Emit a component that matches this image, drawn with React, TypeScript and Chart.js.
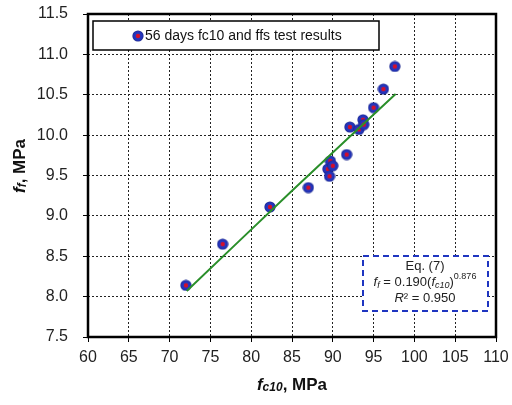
import React, { useEffect, useRef } from "react";
import { Chart, registerables } from "chart.js";

Chart.register(...registerables);

const fc10: number[] = [72.0, 76.5, 82.3, 87.0, 89.4, 89.6, 89.7, 90.0, 91.7, 92.1, 93.2, 93.7, 93.8, 95.0, 96.2, 97.6];
const ff: number[] = [8.14, 8.65, 9.11, 9.35, 9.58, 9.49, 9.68, 9.62, 9.76, 10.1, 10.07, 10.19, 10.13, 10.34, 10.57, 10.85];
const trendX: number[] = [72.1, 85.0, 97.7];
const trendY: number[] = [8.07, 9.31, 10.51];
const xTicks: number[] = [60, 65, 70, 75, 80, 85, 90, 95, 100, 105, 110];
const yTicks: number[] = [7.5, 8.0, 8.5, 9.0, 9.5, 10.0, 10.5, 11.0, 11.5];
const legendLabel = "56 days fc10 and ffs test results";

type Seg = { t: string; it?: boolean; b?: boolean; size?: number; dy?: number };

function segFont(s: Seg, base: number) {
  return `${s.it ? "italic " : ""}${s.b ? "bold " : ""}${s.size ?? base}px "Liberation Sans", Arial, sans-serif`;
}

function drawRich(ctx: CanvasRenderingContext2D, segs: Seg[], cx: number, cy: number, base: number) {
  let w = 0;
  for (const s of segs) {
    ctx.font = segFont(s, base);
    w += ctx.measureText(s.t).width;
  }
  let x = cx - w / 2;
  ctx.textBaseline = "middle";
  ctx.textAlign = "left";
  for (const s of segs) {
    ctx.font = segFont(s, base);
    ctx.fillText(s.t, x, cy + (s.dy ?? 0));
    x += ctx.measureText(s.t).width;
  }
}

function makeMarker(): HTMLCanvasElement {
  const c = document.createElement("canvas");
  c.width = 12;
  c.height = 12;
  const g = c.getContext("2d")!;
  const grad = g.createRadialGradient(6, 6, 1, 6, 6, 6);
  grad.addColorStop(0, "#2a3ccc");
  grad.addColorStop(0.7, "#2232b4");
  grad.addColorStop(1, "#16207a");
  g.fillStyle = grad;
  g.beginPath();
  g.arc(6, 6, 5.6, 0, Math.PI * 2);
  g.fill();
  g.fillStyle = "#d4102a";
  g.beginPath();
  g.arc(6, 6, 2.2, 0, Math.PI * 2);
  g.fill();
  return c;
}

export default function App() {
  const ref = useRef<HTMLCanvasElement | null>(null);
  useEffect(() => {
    const marker = makeMarker();
    const decor = {
      id: "decor",
      afterDraw(chart: any) {
        const ctx: CanvasRenderingContext2D = chart.ctx;
        const a = chart.chartArea;
        ctx.save();
        // frame
        ctx.strokeStyle = "#000";
        ctx.lineWidth = 2.5;
        ctx.setLineDash([]);
        ctx.strokeRect(a.left, a.top, a.right - a.left, a.bottom - a.top);
        // legend box
        ctx.fillStyle = "#fff";
        ctx.fillRect(93, 21, 286, 29);
        ctx.lineWidth = 1.5;
        ctx.strokeRect(93, 21, 286, 29);
        ctx.drawImage(marker, 132, 30);
        ctx.fillStyle = "#111";
        ctx.font = '14px "Liberation Sans", Arial, sans-serif';
        ctx.textBaseline = "middle";
        ctx.textAlign = "left";
        ctx.fillText(legendLabel, 145, 36);
        // equation box
        ctx.fillStyle = "#fff";
        ctx.fillRect(363, 256, 125, 55);
        ctx.strokeStyle = "#1f35c0";
        ctx.lineWidth = 2;
        ctx.setLineDash([6, 4]);
        ctx.strokeRect(363, 256, 125, 55);
        ctx.setLineDash([]);
        ctx.fillStyle = "#222";
        drawRich(ctx, [{ t: "Eq. (7)" }], 425, 266, 13);
        drawRich(
          ctx,
          [
            { t: "f", it: true },
            { t: "f", it: true, size: 9, dy: 3 },
            { t: " = 0.190(" },
            { t: "f", it: true },
            { t: "c10", it: true, size: 9, dy: 3 },
            { t: ")" },
            { t: "0.876", size: 9, dy: -5 },
          ],
          425,
          282,
          13
        );
        drawRich(ctx, [{ t: "R", it: true }, { t: "²" }, { t: " = 0.950" }], 425, 298, 13);
        // axis titles
        ctx.fillStyle = "#111";
        drawRich(
          ctx,
          [
            { t: "f", it: true, b: true },
            { t: "c10", it: true, b: true, size: 12, dy: 3 },
            { t: ", MPa", b: true },
          ],
          (a.left + a.right) / 2,
          385,
          17
        );
        ctx.translate(20, 166);
        ctx.rotate(-Math.PI / 2);
        drawRich(
          ctx,
          [
            { t: "f", it: true, b: true },
            { t: "f", it: true, b: true, size: 12, dy: 3 },
            { t: ", MPa", b: true },
          ],
          0,
          0,
          17
        );
        ctx.restore();
      },
    };
    const gridOpts: any = {
      color: "#222",
      lineWidth: 1,
      tickLength: 5,
      tickColor: "#000",
      tickBorderDash: [],
    };
    const chart = new Chart(ref.current!, {
      type: "scatter",
      data: {
        datasets: [
          {
            type: "line",
            label: "trend",
            data: trendX.map((x, i) => ({ x, y: trendY[i] })),
            borderColor: "#2a8f2a",
            borderWidth: 2,
            pointRadius: 0,
            fill: false,
            tension: 0.3,
          },
          {
            label: legendLabel,
            data: fc10.map((x, i) => ({ x, y: ff[i] })),
            pointStyle: marker as any,
            pointRadius: 6,
          },
        ],
      },
      plugins: [decor],
      options: {
        animation: false,
        responsive: false,
        events: [],
        layout: { padding: { left: 0, right: 16, top: 14, bottom: 0 } },
        plugins: { legend: { display: false }, tooltip: { enabled: false } },
        scales: {
          x: {
            type: "linear",
            min: 60,
            max: 110,
            afterBuildTicks: (s: any) => {
              s.ticks = xTicks.map((v) => ({ value: v }));
            },
            afterFit: (s: any) => {
              s.height = 68;
              s.paddingLeft = 0;
              s.paddingRight = 0;
            },
            ticks: {
              color: "#222",
              padding: 6,
              maxRotation: 0,
              font: { size: 16, family: '"Liberation Sans", Arial, sans-serif' },
            },
            grid: gridOpts,
            border: { display: false, dash: [2, 2] } as any,
          },
          y: {
            type: "linear",
            min: 7.5,
            max: 11.5,
            afterBuildTicks: (s: any) => {
              s.ticks = yTicks.map((v) => ({ value: v }));
            },
            afterFit: (s: any) => {
              s.width = 88;
              s.paddingTop = 0;
              s.paddingBottom = 0;
            },
            ticks: {
              color: "#222",
              padding: 15,
              callback: (v: any) => Number(v).toFixed(1),
              font: { size: 16, family: '"Liberation Sans", Arial, sans-serif' },
            },
            grid: gridOpts,
            border: { display: false, dash: [2, 2] } as any,
          },
        },
      },
    });
    return () => chart.destroy();
  }, []);
  return (
    <div style={{ position: "fixed", left: 0, top: 0, width: 512, height: 405, background: "#fff" }}>
      <canvas ref={ref} width={512} height={405} style={{ display: "block" }} />
    </div>
  );
}
